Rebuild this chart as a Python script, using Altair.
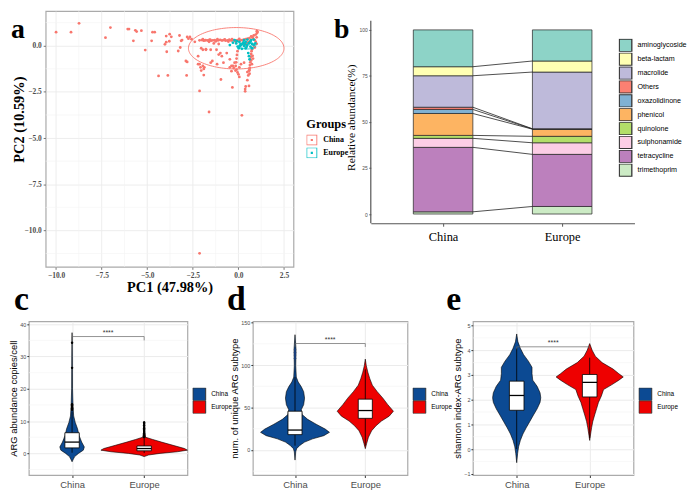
import altair as alt
import pandas as pd

SERIF = "Liberation Serif"
SANS = "Liberation Sans"
GROUPS = ["China", "Europe"]
POS = {"China": 1, "Europe": 2}

# ---------------- panel a : PCA scatter ----------------
A_CHINA = [
    (-10.0, 0.73), (-9.18, 0.73), (-8.74, 1.21), (-7.29, 0.43), (-7.02, 0.98),
    (-6.07, 0.90), (-6.00, 0.90), (-5.76, 0.26), (-5.65, 0.83), (-5.58, 0.76),
    (-5.32, 0.81), (-5.11, -0.24), (-4.71, 0.73), (-4.59, 0.73), (-4.76, 0.26),
    (-4.38, -1.64), (-3.96, 0.52), (-3.87, -1.61), (-3.77, 0.62), (-3.68, 0.48),
    (-3.79, 0.24), (-3.96, 0.19), (-4.03, 0.07), (-3.93, -0.33), (-3.23, 0.55),
    (-3.14, 0.26), (-3.19, -0.10), (-3.30, -0.29), (-2.81, 0.47), (-2.81, -0.88),
    (-2.84, -1.61), (-3.09, 0.30), (-2.66, 0.47), (-2.57, 0.35), (-2.74, 0.38),
    (-2.39, 0.21), (-2.13, 0.29), (-2.04, -0.14), (-1.83, 0.29), (-1.78, -0.19),
    (-1.61, 0.21), (-1.52, -0.22), (-1.35, 0.12), (-1.20, -0.22), (-1.08, 0.09),
    (-0.99, -0.40), (-0.91, -0.57), (-0.82, -0.92), (-0.64, -0.40), (-0.47, -0.74),
    (-0.38, -1.09), (-0.21, -0.92), (-2.88, -0.83), (-2.21, -1.00), (-2.04, -1.35),
    (-1.90, -1.59), (-1.87, -1.17), (-1.90, -1.26), (-2.13, -2.45), (-1.61, -3.59),
    (-0.96, -1.83), (-0.33, -2.26), (0.19, -3.77), (0.40, -2.21), (0.37, -2.35),
    (0.37, -2.47), (0.58, -2.18), (0.05, -1.69), (0.58, -1.35), (0.61, -1.52),
    (0.54, -1.61), (-0.38, -1.38), (-0.26, -1.21), (-0.16, -1.35), (0.05, -1.17),
    (0.14, -1.00), (0.31, -0.92), (-1.52, -0.92), (-1.17, -1.00), (-2.13, -1.00),
    (-2.13, -11.24), (-1.95, -0.22), (-1.78, -0.22), (-2.21, -0.57), (-2.08, -1.17),
    (-1.95, -1.09), (-1.43, -0.83), (-1.08, -0.48), (-0.47, -1.17), (-0.30, -1.09),
    (0.49, -1.43), (0.61, -1.26), (0.49, -1.87),
    (-2.00, 0.30), (-1.90, 0.27), (-1.80, 0.30), (-1.70, 0.28), (-1.60, 0.31),
    (-1.50, 0.27), (-1.40, 0.29), (-1.30, 0.30), (-1.20, 0.27), (-1.10, 0.29),
    (-1.00, 0.31), (-0.90, 0.28), (-0.80, 0.30), (-0.70, 0.27), (-0.60, 0.29),
    (-0.50, 0.32), (-0.40, 0.28), (-0.30, 0.30), (-0.20, 0.27), (-0.10, 0.29),
    (0.00, 0.31), (0.10, 0.28), (0.20, 0.30), (0.30, 0.33), (0.40, 0.35),
    (0.50, 0.38), (0.60, 0.40), (-1.95, 0.35), (-1.55, 0.33), (-1.15, 0.35),
    (-0.75, 0.34), (-0.35, 0.35), (0.05, 0.36), (-0.55, 0.22), (-1.25, 0.23),
    (-0.15, 0.22),
    (0.70, 0.50), (0.80, 0.40), (0.90, 0.30), (0.95, 0.20), (1.00, 0.10),
    (0.85, 0.00), (0.90, -0.10), (0.75, -0.20), (0.65, 0.25), (0.55, 0.20),
    (0.45, 0.10), (0.35, 0.05), (0.25, 0.15), (1.00, 0.45), (0.95, 0.60),
    (1.02, 0.68), (1.05, 0.74), (1.01, 0.78), (0.84, 0.55), (0.75, 0.47),
    (0.72, -0.30), (0.70, -0.45), (0.68, -0.60), (0.66, -0.75), (0.65, -0.90),
    (0.63, -1.05), (0.62, -1.20), (0.60, -1.35), (0.70, -0.80), (0.74, -1.00),
    (0.78, -0.55), (0.80, -0.70), (-0.05, -0.30), (-0.08, -0.50), (-0.10, -0.70),
    (-0.12, -0.90), (-0.15, -1.10), (-0.10, -1.30), (-0.05, -1.45), (0.00, -1.55),
]
A_EUROPE = [
    (-0.47, 0.03), (-0.30, 0.16), (-0.12, 0.12), (-0.04, -0.05), (0.05, 0.21),
    (0.14, 0.03), (0.23, 0.09), (0.31, -0.02), (0.40, 0.21), (0.49, 0.03),
    (0.58, 0.12), (0.66, -0.05), (0.75, 0.09), (0.84, 0.03), (0.93, 0.12),
    (0.02, -0.14), (0.19, -0.17), (0.40, -0.14), (0.61, 0.16), (0.31, 0.30),
    (0.49, 0.33), (0.58, -0.57), (0.61, -0.74), (0.54, -0.40), (-0.21, 0.30),
    (-0.09, 0.24), (0.75, -0.14), (0.09, -0.02), (0.70, 0.30), (0.84, 0.33),
    (0.28, 0.18), (0.45, -0.06), (0.66, 0.22), (0.12, 0.10), (0.36, 0.08),
]
A_ELL_GROUP = ["China", "Europe"]
A_ELL_CX = [-0.12, 0.48]
A_ELL_CY = [-0.14, -0.01]
A_ELL_RX = [2.62, 0.47]
A_ELL_RY = [1.12, 0.17]
A_COLORS = ["#F8766D", "#00BFC4"]
A_X_TICKS = [-10, -7.5, -5, -2.5, 0, 2.5]
A_X_MINOR = [-8.75, -6.25, -3.75, -1.25, 1.25]
A_Y_TICKS = [0, -2.5, -5, -7.5, -10]
A_Y_MINOR = [1.25, -1.25, -3.75, -6.25, -8.75, -11.25]
# legend key: outlined square with a small dot (ggplot point + ellipse key)
A_KEY_PATH = ("M-1,-1H1V1H-1Z M-0.84,-0.84V0.84H0.84V-0.84Z "
              "M-0.2,-0.2H0.2V0.2H-0.2Z")

# ---------------- panel b : stacked composition ----------------
B_CATS = ["aminoglycoside", "beta-lactam", "macrolide", "Others", "oxazolidinone",
          "phenicol", "quinolone", "sulphonamide", "tetracycline", "trimethoprim"]
B_COLORS = ["#8DD3C7", "#FFFFB3", "#BEBADA", "#FB8072", "#80B1D3",
            "#FDB462", "#B3DE69", "#FCCDE5", "#BC80BD", "#CCEBC5"]
B_CHINA = [20.0, 4.9, 17.1, 1.2, 2.2, 11.9, 1.6, 4.9, 35.0, 1.2]
B_EUROPE = [16.9, 6.0, 30.8, 0.1, 0.1, 3.9, 3.5, 6.3, 28.3, 4.1]
B_TICKS = [0, 25, 50, 75, 100]

# ---------------- panels c, d, e : violins ----------------
C_CHINA_VY = [37.4, 30, 20, 14.6, 11.6, 9.6, 7.6, 5.5, 3.5, 2.0, 1.0, 0.0, -1.0, -2.0, -2.6]
C_CHINA_VW = [0, 0.004, 0.006, 0.013, 0.022, 0.044, 0.076, 0.098, 0.133, 0.17, 0.156, 0.089, 0.036, 0.013, 0]
C_EUROPE_VY = [10.0, 7.0, 5.0, 4.3, 3.5, 2.5, 1.5, 1.0, 0.5, 0.0, -0.5, -1.0]
C_EUROPE_VW = [0, 0.005, 0.02, 0.12, 0.24, 0.4, 0.56, 0.6, 0.46, 0.22, 0.06, 0]
C_BOX_CHINA = [1.7, 3.5, 6.4, 0.2, 13.0]      # q1, median, q3, whisker low, whisker high
C_BOX_EUROPE = [0.8, 1.5, 2.3, 0.1, 4.6]
C_OUT_CHINA = [13.5, 14.0, 14.4, 14.8, 15.2, 26.5, 34.3]
C_OUT_EUROPE = [5.0, 5.4, 5.8, 6.2, 6.6, 7.0, 7.4, 7.8, 8.2, 8.7, 9.2, 9.6]
C_SIG = 36.2

D_CHINA_VY = [135.8, 118.5, 99.3, 85.8, 80.1, 74.3, 68.6, 61, 53.3, 47.5, 41.8, 36, 30.3,
              24.5, 20.7, 16.8, 13, 9.2, 5.3, 1.5, -2.3, -12]
D_CHINA_VW = [0, 0.014, 0.01, 0.018, 0.045, 0.09, 0.123, 0.136, 0.123, 0.09, 0.1, 0.18, 0.3,
              0.43, 0.49, 0.41, 0.25, 0.136, 0.068, 0.023, 0.01, 0]
D_EUROPE_VY = [107, 99.3, 91.6, 84, 76.3, 68.6, 61, 53.3, 45.6, 39.8, 34, 28.3, 22.6, 15, 7.2, 1.5]
D_EUROPE_VW = [0, 0.014, 0.036, 0.064, 0.1, 0.17, 0.25, 0.32, 0.4, 0.34, 0.23, 0.15, 0.09, 0.045, 0.018, 0]
D_BOX_CHINA = [18, 23.4, 45.6, 5, 86]
D_BOX_EUROPE = [37.2, 46.4, 59.8, 5, 95]
D_OUT_CHINA = [108, 111, 113, 115, 118]
D_OUT_EUROPE = []
D_SIG = 125.4

E_CHINA_VY = [4.66, 4.34, 4.08, 3.82, 3.56, 3.31, 3.05, 2.79, 2.54, 2.28, 2.08, 1.89, 1.63,
              1.38, 1.12, 0.86, 0.61, 0.35, 0.09, -0.17, -0.55]
E_CHINA_VW = [0, 0.017, 0.05, 0.095, 0.16, 0.21, 0.21, 0.22, 0.28, 0.32, 0.33, 0.32, 0.28,
              0.23, 0.18, 0.13, 0.085, 0.05, 0.026, 0.013, 0]
E_EUROPE_VY = [4.27, 4.0, 3.76, 3.5, 3.24, 3.05, 2.92, 2.79, 2.6, 2.41, 2.15, 1.89, 1.63,
               1.38, 1.12, 0.86, 0.61, 0.35]
E_EUROPE_VW = [0, 0.034, 0.077, 0.17, 0.32, 0.40, 0.46, 0.40, 0.30, 0.19, 0.16, 0.12, 0.094,
               0.068, 0.043, 0.026, 0.013, 0]
E_BOX_CHINA = [1.57, 2.17, 2.75, 0.0, 4.1]
E_BOX_EUROPE = [2.11, 2.70, 3.02, 0.45, 3.7]
E_OUT_CHINA = []
E_OUT_EUROPE = []
E_SIG = 4.14

VIO_COLORS = ["#0C4A93", "#EE0000"]

ONE = pd.DataFrame({"k": [0]})


def letter_mark(txt, dx, dy, size):
    return alt.Chart(ONE).mark_text(
        text=txt, font=SERIF, fontWeight="bold", fontSize=size, align="left",
        baseline="alphabetic", color="black"
    ).encode(x=alt.value(dx), y=alt.value(dy))


# ================= panel a =================
A_W, A_H = 250, 258
a_df = pd.DataFrame([{"x": x, "y": y, "group": "China"} for x, y in A_CHINA] +
                    [{"x": x, "y": y, "group": "Europe"} for x, y in A_EUROPE])
ell_df = pd.DataFrame([
    {"grp": g, "cx": cx, "cy": cy, "rx": rx, "ry": ry, "t": t}
    for g, cx, cy, rx, ry in zip(A_ELL_GROUP, A_ELL_CX, A_ELL_CY, A_ELL_RX, A_ELL_RY)
    for t in range(0, 361, 3)
])
ax_scale = alt.Scale(domain=[-10.57, 3.02], nice=False, zero=False)
ay_scale = alt.Scale(domain=[-11.97, 1.87], nice=False, zero=False)
a_common = dict(grid=True, gridColor="#ebebeb", gridWidth=0.9, domain=False,
                tickColor="#777", tickSize=2.5, labelFont=SERIF, labelFontWeight="bold",
                labelFontSize=7.5, labelColor="#4d4d4d", labelPadding=2, format=".1f",
                titleFont=SERIF, titleFontWeight="bold", titleFontSize=14.5, titleColor="black")
a_xaxis = alt.Axis(values=A_X_TICKS, title="PC1 (47.98%)", titleX=A_W / 2, titleY=14,
                   titleBaseline="top", **a_common)
a_yaxis = alt.Axis(values=A_Y_TICKS, title="PC2 (10.59%)", titleX=-22, titleY=A_H / 2 - 20,
                   titleBaseline="alphabetic", **a_common)
AX = alt.X("x:Q", scale=ax_scale, axis=a_xaxis)
AY = alt.Y("y:Q", scale=ay_scale, axis=a_yaxis)

a_minx = alt.Chart(pd.DataFrame({"x": A_X_MINOR})).mark_rule(color="#f4f4f4", strokeWidth=0.6).encode(x=AX)
a_miny = alt.Chart(pd.DataFrame({"y": A_Y_MINOR})).mark_rule(color="#f4f4f4", strokeWidth=0.6).encode(y=AY)
a_pts = alt.Chart(a_df).mark_circle(size=8, opacity=1).encode(
    x=AX, y=AY,
    fill=alt.Fill("group:N", scale=alt.Scale(domain=GROUPS, range=A_COLORS), legend=alt.Legend(
        title="Groups", orient="none", legendX=A_W + 13, legendY=108, direction="vertical",
        titleFont=SERIF, titleFontWeight="bold", titleFontSize=12.5, titleColor="black",
        titlePadding=4, labelFont=SERIF, labelFontWeight="bold", labelFontSize=8,
        labelColor="black", symbolType=A_KEY_PATH, symbolSize=121, symbolStrokeWidth=0,
        symbolOpacity=1, clipHeight=11, rowPadding=2, labelOffset=6)))
a_ell = alt.Chart(ell_df).transform_calculate(
    x="datum.cx + datum.rx * cos(datum.t * PI / 180)",
    y="datum.cy + datum.ry * sin(datum.t * PI / 180)",
).mark_line(strokeWidth=0.9).encode(
    x=AX, y=AY, order="t:Q",
    stroke=alt.Stroke("grp:N", scale=alt.Scale(domain=A_ELL_GROUP, range=A_COLORS), legend=None))
panel_a = alt.layer(a_minx, a_miny, a_pts, a_ell, letter_mark("a", -35, 27, 28)).properties(
    width=A_W, height=A_H)

# ================= panel b =================
B_W, B_H = 266, 214
B_HALF = 0.25
b_rows, b_tops = [], {}
for g, vals in (("China", B_CHINA), ("Europe", B_EUROPE)):
    cum = 0.0
    for cat, v in reversed(list(zip(B_CATS, vals))):
        b_rows.append({"cat": cat, "x": POS[g] - B_HALF, "x2": POS[g] + B_HALF, "y": cum, "y2": cum + v})
        cum += v
        b_tops[(g, cat)] = cum
b_df = pd.DataFrame(b_rows)
link_df = pd.DataFrame([{"x": 1 + B_HALF, "x2": 2 - B_HALF, "y": b_tops[("China", c)],
                         "y2": b_tops[("Europe", c)]} for c in B_CATS[1:]])
bx_scale = alt.Scale(domain=[0.393, 2.607], nice=False, zero=False)
by_scale = alt.Scale(domain=[-5, 110.2], nice=False, zero=False)
b_xaxis = alt.Axis(values=[1, 2], labelExpr="datum.value == 1 ? 'China' : 'Europe'", title=None,
                   grid=False, domain=True, domainColor="#555", domainWidth=1.2, tickColor="#555",
                   tickSize=3, labelFont=SERIF, labelFontSize=12.5, labelColor="black", labelPadding=4)
b_yaxis = alt.Axis(values=B_TICKS, title="Relative abundance(%)", grid=False, domain=False,
                   tickColor="#555", tickSize=2, labelFont=SANS, labelFontSize=5, labelColor="#4d4d4d",
                   labelPadding=1.5, titleFont=SERIF, titleFontSize=11.5, titleFontWeight="normal",
                   titleColor="black", titlePadding=3)
BX = alt.X("x:Q", scale=bx_scale, axis=b_xaxis)
BY = alt.Y("y:Q", scale=by_scale, axis=b_yaxis)
b_bars = alt.Chart(b_df).mark_rect(stroke="#222", strokeWidth=0.7).encode(
    x=BX, x2="x2:Q", y=BY, y2="y2:Q",
    fill=alt.Fill("cat:N", scale=alt.Scale(domain=B_CATS, range=B_COLORS), legend=alt.Legend(
        title=None, orient="none", legendX=B_W - 16, legendY=28, direction="vertical",
        symbolType="square", symbolSize=160, symbolStrokeColor="#333", symbolStrokeWidth=1.3,
        labelFont=SANS, labelFontSize=7.2, labelColor="black", clipHeight=13, rowPadding=1,
        labelOffset=5)))
b_links = alt.Chart(link_df).mark_rule(color="#222", strokeWidth=0.8).encode(
    x=BX, x2="x2:Q", y=BY, y2="y2:Q")
b_yline = alt.Chart(pd.DataFrame({"y": [-5], "y2": [105]})).mark_rule(color="#555", strokeWidth=1.2).encode(
    x=alt.value(0), y=BY, y2="y2:Q")
panel_b = alt.layer(b_bars, b_links, b_yline, letter_mark("b", -37, 27, 28)).properties(
    width=B_W, height=B_H, view=alt.ViewBackground(stroke="transparent"))


# ================= panels c, d, e =================
def violin_panel(letter, letter_dx, ytitle, ydom, yticks, yminor, vio, boxes, outs, out_color,
                 sig, sig_tick, width, height):
    xs = alt.Scale(domain=[0.4, 2.6], nice=False, zero=False)
    ys = alt.Scale(domain=ydom, nice=False, zero=False)
    xaxis = alt.Axis(values=[1, 2], labelExpr="datum.value == 1 ? 'China' : 'Europe'", title=None,
                     grid=True, gridColor="#ebebeb", domain=False, tickColor="#333", tickSize=2.5,
                     labelFont=SANS, labelFontSize=9.5, labelColor="#4d4d4d", labelPadding=2)
    yaxis = alt.Axis(values=yticks, title=ytitle, grid=True, gridColor="#ebebeb", domain=False,
                     tickColor="#333", tickSize=2, labelFont=SANS, labelFontSize=5.5,
                     labelColor="#4d4d4d", labelPadding=1, titleFont=SANS, titleFontSize=9.5,
                     titleFontWeight="normal", titleColor="black", titlePadding=1)
    X = alt.X("x:Q", scale=xs, axis=xaxis)
    Y = alt.Y("y:Q", scale=ys, axis=yaxis)
    vrows = []
    for g in GROUPS:
        vy, vw = vio[g]
        for yv, w in zip(vy, vw):
            vrows.append({"group": g, "y": yv, "x": POS[g] - w, "x2": POS[g] + w})
    bh = 0.1
    box_rows = [{"x": POS[g] - bh, "x2": POS[g] + bh, "y": boxes[g][0], "y2": boxes[g][2]} for g in GROUPS]
    med_rows = [{"x": POS[g] - bh, "x2": POS[g] + bh, "y": boxes[g][1]} for g in GROUPS]
    wh_rows = [{"x": POS[g], "y": boxes[g][3], "y2": boxes[g][4]} for g in GROUPS]
    out_rows = [{"x": POS[g], "y": v} for g in GROUPS for v in outs[g]]
    sig_rows = [{"x": 1, "x2": 2, "y": sig, "y2": sig},
                {"x": 1, "x2": 1, "y": sig, "y2": sig - sig_tick},
                {"x": 2, "x2": 2, "y": sig, "y2": sig - sig_tick}]

    minor = alt.Chart(pd.DataFrame({"y": yminor})).mark_rule(color="#f4f4f4", strokeWidth=0.6).encode(y=Y)
    violin = alt.Chart(pd.DataFrame(vrows)).mark_area(
        orient="horizontal", stroke="black", strokeWidth=0.6, opacity=1).encode(
        y=Y, x=X, x2="x2:Q",
        fill=alt.Fill("group:N", scale=alt.Scale(domain=GROUPS, range=VIO_COLORS), legend=alt.Legend(
            title=None, orient="none", legendX=width + 5, legendY=67, direction="vertical",
            symbolType="square", symbolSize=165, symbolStrokeColor="#333", symbolStrokeWidth=1,
            labelFont=SANS, labelFontSize=6.5, labelColor="black", clipHeight=13, rowPadding=0,
            labelOffset=5)))
    whisk = alt.Chart(pd.DataFrame(wh_rows)).mark_rule(color="black", strokeWidth=0.8).encode(
        x=X, y=Y, y2="y2:Q")
    box = alt.Chart(pd.DataFrame(box_rows)).mark_rect(fill="white", stroke="black", strokeWidth=0.8).encode(
        x=X, x2="x2:Q", y=Y, y2="y2:Q")
    med = alt.Chart(pd.DataFrame(med_rows)).mark_rule(color="black", strokeWidth=1.3).encode(
        x=X, x2="x2:Q", y=Y)
    layers = [minor, violin, whisk, box, med]
    if out_rows:
        layers.append(alt.Chart(pd.DataFrame(out_rows)).mark_circle(size=6, color=out_color, opacity=1).encode(
            x=X, y=Y))
    layers.append(alt.Chart(pd.DataFrame(sig_rows)).mark_rule(color="#666", strokeWidth=0.7).encode(
        x=X, x2="x2:Q", y=Y, y2="y2:Q"))
    layers.append(alt.Chart(pd.DataFrame({"x": [1.5], "y": [sig]})).mark_text(
        text="****", font=SANS, fontSize=7, color="#333", baseline="bottom", dy=-1).encode(x=X, y=Y))
    layers.append(letter_mark(letter, letter_dx, -11, 34))
    return alt.layer(*layers).properties(width=width, height=height)


H_BOT = 155
panel_c = violin_panel("c", -15, "ARG abundance copies/cell", [-6.7, 40.9], [0, 10, 20, 30, 40],
                       [-5, 5, 15, 25, 35],
                       {"China": (C_CHINA_VY, C_CHINA_VW), "Europe": (C_EUROPE_VY, C_EUROPE_VW)},
                       {"China": C_BOX_CHINA, "Europe": C_BOX_EUROPE},
                       {"China": C_OUT_CHINA, "Europe": C_OUT_EUROPE}, "black", C_SIG, 1.2, 160, H_BOT)
panel_d = violin_panel("d", -26, "num. of unique ARG subtype", [-29.6, 151.5], [0, 50, 100, 150],
                       [-25, 25, 75, 125],
                       {"China": (D_CHINA_VY, D_CHINA_VW), "Europe": (D_EUROPE_VY, D_EUROPE_VW)},
                       {"China": D_BOX_CHINA, "Europe": D_BOX_EUROPE},
                       {"China": D_OUT_CHINA, "Europe": D_OUT_EUROPE}, "#1a3f7a", D_SIG, 4, 156, H_BOT)
panel_e = violin_panel("e", -27, "shannon index-ARG subtype", [-1.05, 5.17], [-1, 0, 1, 2, 3, 4, 5],
                       [-0.5, 0.5, 1.5, 2.5, 3.5, 4.5],
                       {"China": (E_CHINA_VY, E_CHINA_VW), "Europe": (E_EUROPE_VY, E_EUROPE_VW)},
                       {"China": E_BOX_CHINA, "Europe": E_BOX_EUROPE},
                       {"China": E_OUT_CHINA, "Europe": E_OUT_EUROPE}, "black", E_SIG, 0.1, 162, H_BOT)

RES = dict(x="independent", y="independent", fill="independent", stroke="independent")
LEG = dict(fill="independent", stroke="independent")

spacer = alt.Chart(ONE).mark_point(opacity=0, size=1).properties(
    width=17, height=10, view=alt.ViewBackground(stroke="transparent"))
top_inner = alt.hconcat(panel_a, panel_b, spacing=78, bounds="flush").resolve_scale(**RES).resolve_legend(**LEG)
top = alt.hconcat(spacer, top_inner, spacing=0, bounds="flush").resolve_scale(**RES).resolve_legend(**LEG)
bottom = alt.hconcat(panel_c, panel_d, panel_e, spacing=66, bounds="flush").resolve_scale(**RES).resolve_legend(**LEG)
chart = alt.vconcat(top, bottom, spacing=-13, bounds="full").resolve_scale(**RES).resolve_legend(
    **LEG).properties(padding=0).configure_view(stroke="#aaaaaa", strokeWidth=1.2)

chart.save("out.html", embed_options={"renderer": "svg", "actions": False})
